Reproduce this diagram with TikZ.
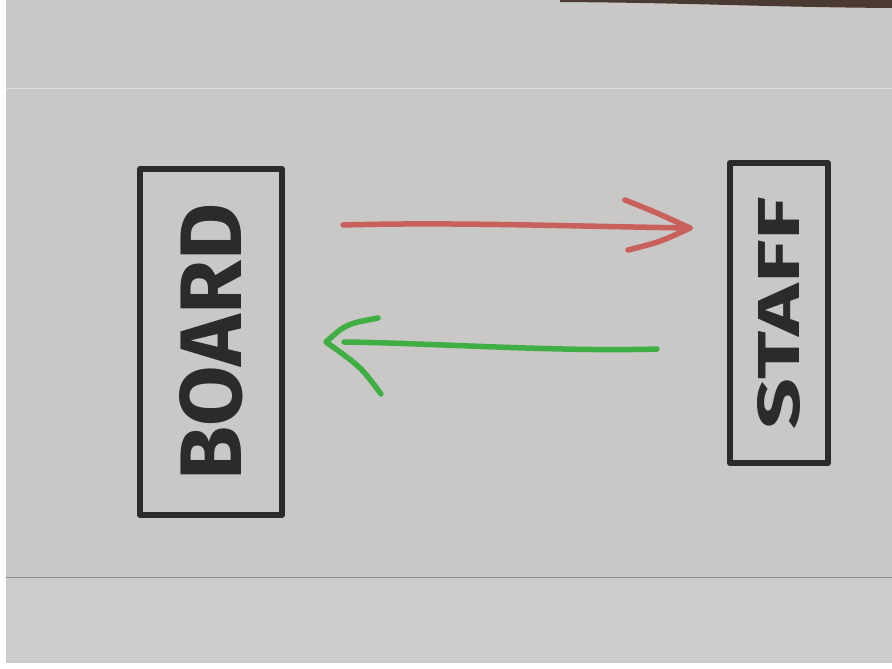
\documentclass[tikz,border=0pt]{standalone}
\usepackage{fontspec}
\setmainfont{Fira Sans}
\definecolor{paper}{HTML}{C9C8C6}
\definecolor{paperlow}{HTML}{CDCCCA}
\definecolor{ink}{HTML}{2B2A2C}
\definecolor{redink}{HTML}{C8605C}
\definecolor{greenink}{HTML}{3FAE45}
\definecolor{wood}{HTML}{4A3A32}
\begin{document}
\begin{tikzpicture}[x=1pt,y=-1pt,
  box/.style={draw=ink, line width=6pt, rotate=90, inner sep=0pt, line join=round},
  marker/.style={line width=5.5pt, line cap=round, line join=round}]
\useasboundingbox (0,0) rectangle (892,669);
\fill[white] (0,0) rectangle (892,669);
\fill[paper] (6,0) rectangle (892,663);
\fill[paperlow] (6,578) rectangle (892,663);
\fill[wood] (560,0) -- (892,0) -- (892,8) .. controls (760,7) and (700,3) .. (560,2) -- cycle;
\draw[white!40!paper, line width=0.8pt] (6,88) -- (892,88);
\draw[black!30!paper, line width=0.8pt] (6,577) -- (892,577);

\node[box, minimum width=346pt, minimum height=142pt] (board) at (211,342)
  {\resizebox{276pt}{62pt}{\bfseries\color{ink}BOARD}};
\node[box, minimum width=300pt, minimum height=98pt] (staff) at (779,313)
  {\resizebox{232pt}{42pt}{\bfseries\color{ink}STAFF}};

\coordinate (rs) at ([shift={(58,-117)}]board.south);
\coordinate (rt) at ([shift={(-37,-85)}]staff.north);
\coordinate (gs) at ([shift={(-70,36)}]staff.north);
\coordinate (gt) at ([shift={(41,0)}]board.south);

\draw[marker, redink] (rs) .. controls (450,222) and (560,226) .. (rt);
\draw[marker, redink] ([shift={(-65,-28)}]rt) .. controls ([shift={(-35,-16)}]rt) .. (rt)
  .. controls ([shift={(-30,14)}]rt) .. ([shift={(-62,22)}]rt);
\draw[marker, greenink] (gs) .. controls (560,352) and (430,343) .. ([shift={(18,0)}]gt);
\draw[marker, greenink] ([shift={(52,-24)}]gt) .. controls ([shift={(20,-18)}]gt) .. (gt)
  .. controls ([shift={(35,25)}]gt) .. ([shift={(55,52)}]gt);
\end{tikzpicture}
\end{document}
